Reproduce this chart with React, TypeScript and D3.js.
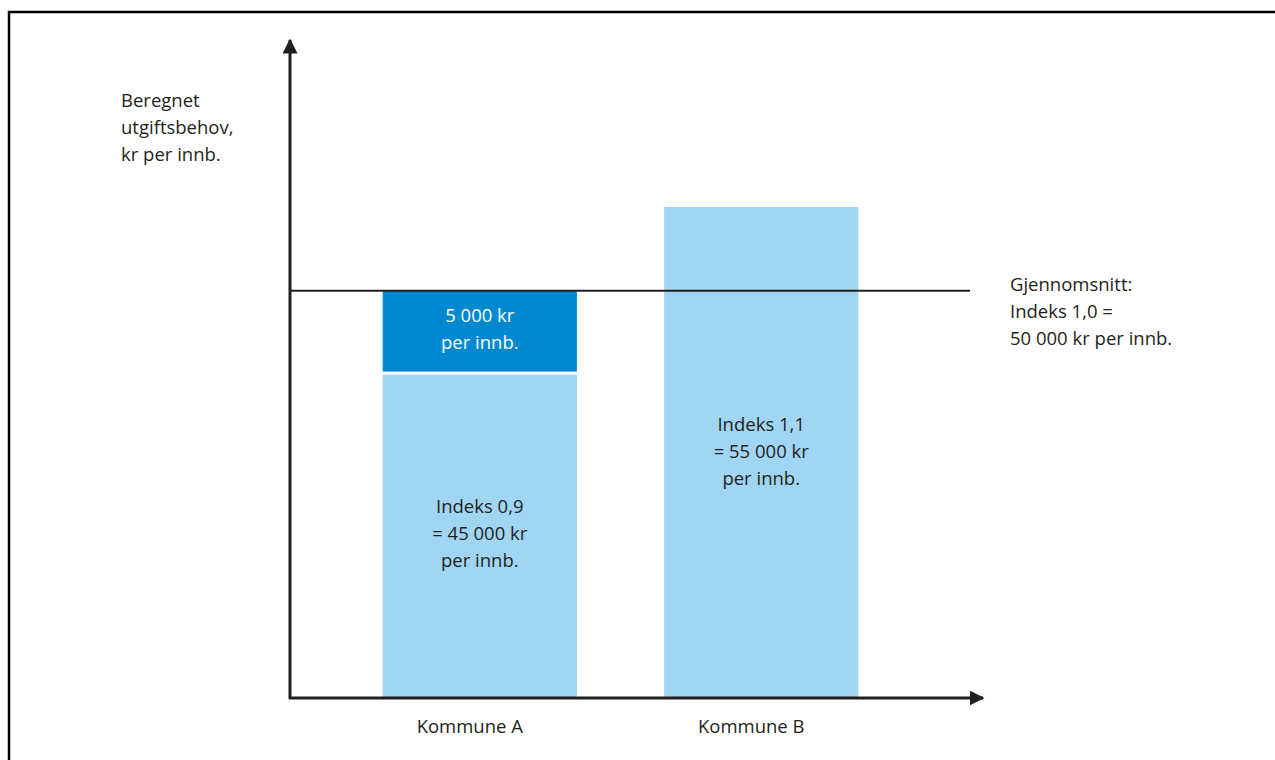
import React, { useEffect, useRef } from 'react';
import * as d3 from 'd3';

// Kommuner og beregnet utgiftsbehov (kr per innbygger)
const kommuner = ['Kommune A', 'Kommune B'];
const utgiftsbehov = [45000, 55000];
const gjennomsnitt = 50000;
// the chart is schematic: the value axis is cut, this is the value that sits on the x-axis
const axisFloor = 25700;

const barLabels = [
    ['Indeks 0,9', '= 45 000 kr', 'per innb.'],
    ['Indeks 1,1', '= 55 000 kr', 'per innb.'],
];
const gapLabel = ['5 000 kr', 'per innb.'];
const avgLabel = ['Gjennomsnitt:', 'Indeks 1,0 =', '50 000 kr per innb.'];
const yLabel = ['Beregnet', 'utgiftsbehov,', 'kr per innb.'];

const W = 1275;
const H = 760;
const FONT = '"Open Sans", sans-serif';
const INK = '#231f20';
const LIGHT = '#a0d6f3';
const DARK = '#0089d0';

export default function App() {
    const svgRef = useRef<SVGSVGElement>(null);

    useEffect(() => {
        if (!svgRef.current) return;
        const svg = d3.select(svgRef.current);
        svg.selectAll('*').remove();

        const originX = 290;
        const originY = 698;

        const x = d3.scaleBand()
            .domain(kommuner)
            .range([originX - 3, 954])
            .paddingInner(0.31)
            .paddingOuter(0.34);

        const y = d3.scaleLinear()
            .domain([axisFloor, 55000])
            .range([originY, 207]);

        // frame (top + left only)
        svg.append('path')
            .attr('d', `M9,${H} L9,12 L${W},12`)
            .attr('fill', 'none')
            .attr('stroke', '#000')
            .attr('stroke-width', 2.5);

        const defs = svg.append('defs');
        defs.append('marker')
            .attr('id', 'arrow')
            .attr('viewBox', '0 0 10 10')
            .attr('refX', 9)
            .attr('refY', 5)
            .attr('markerWidth', 5)
            .attr('markerHeight', 5)
            .attr('markerUnits', 'strokeWidth')
            .attr('orient', 'auto')
            .append('path')
            .attr('d', 'M0,0 L10,5 L0,10 z')
            .attr('fill', INK);

        const g = svg.append('g');

        // bars
        g.selectAll('rect.bar')
            .data(kommuner.map((k, i) => ({ k, v: utgiftsbehov[i] })))
            .enter()
            .append('rect')
            .attr('class', 'bar')
            .attr('x', d => x(d.k)!)
            .attr('y', d => y(d.v))
            .attr('width', x.bandwidth())
            .attr('height', d => originY - y(d.v))
            .attr('fill', LIGHT);

        // gap up to average for Kommune A
        const gapTop = y(gjennomsnitt);
        const gapBottom = y(utgiftsbehov[0]) - 3;
        g.append('rect')
            .attr('x', x(kommuner[0])!)
            .attr('y', gapTop)
            .attr('width', x.bandwidth())
            .attr('height', gapBottom - gapTop)
            .attr('fill', DARK);

        const lineH = 27;
        const fontSize = 18.5;

        const drawLines = (lines: string[], cx: number, cy: number, anchor: string, fill: string) => {
            const t = g.append('text')
                .attr('font-family', FONT)
                .attr('font-size', fontSize)
                .attr('fill', fill)
                .attr('text-anchor', anchor);
            lines.forEach((s, i) => {
                t.append('tspan')
                    .attr('x', cx)
                    .attr('y', cy + i * lineH)
                    .text(s);
            });
        };

        drawLines(gapLabel, x(kommuner[0])! + x.bandwidth() / 2, 322, 'middle', '#fff');
        drawLines(barLabels[0], x(kommuner[0])! + x.bandwidth() / 2, 513, 'middle', INK);
        drawLines(barLabels[1], x(kommuner[1])! + x.bandwidth() / 2, 431, 'middle', INK);

        // average line
        g.append('line')
            .attr('x1', originX)
            .attr('x2', 970)
            .attr('y1', y(gjennomsnitt))
            .attr('y2', y(gjennomsnitt))
            .attr('stroke', INK)
            .attr('stroke-width', 2);

        drawLines(avgLabel, 1010, 291, 'start', INK);
        drawLines(yLabel, 121, 107, 'start', INK);

        // axes with arrows
        g.append('line')
            .attr('x1', originX).attr('y1', originY + 1)
            .attr('x2', originX).attr('y2', 40)
            .attr('stroke', INK)
            .attr('stroke-width', 3)
            .attr('marker-end', 'url(#arrow)');
        g.append('line')
            .attr('x1', originX - 1).attr('y1', originY)
            .attr('x2', 983).attr('y2', originY)
            .attr('stroke', INK)
            .attr('stroke-width', 3)
            .attr('marker-end', 'url(#arrow)');

        // category labels
        g.selectAll('text.cat')
            .data(kommuner)
            .enter()
            .append('text')
            .attr('class', 'cat')
            .attr('x', d => x(d)! + x.bandwidth() / 2 - 10)
            .attr('y', 733)
            .attr('text-anchor', 'middle')
            .attr('font-family', FONT)
            .attr('font-size', fontSize)
            .attr('fill', INK)
            .text(d => d);
    }, []);

    return (
        <svg
            ref={svgRef}
            width={W}
            height={H}
            style={{ position: 'absolute', left: 0, top: 0, background: '#fff' }}
        />
    );
}
